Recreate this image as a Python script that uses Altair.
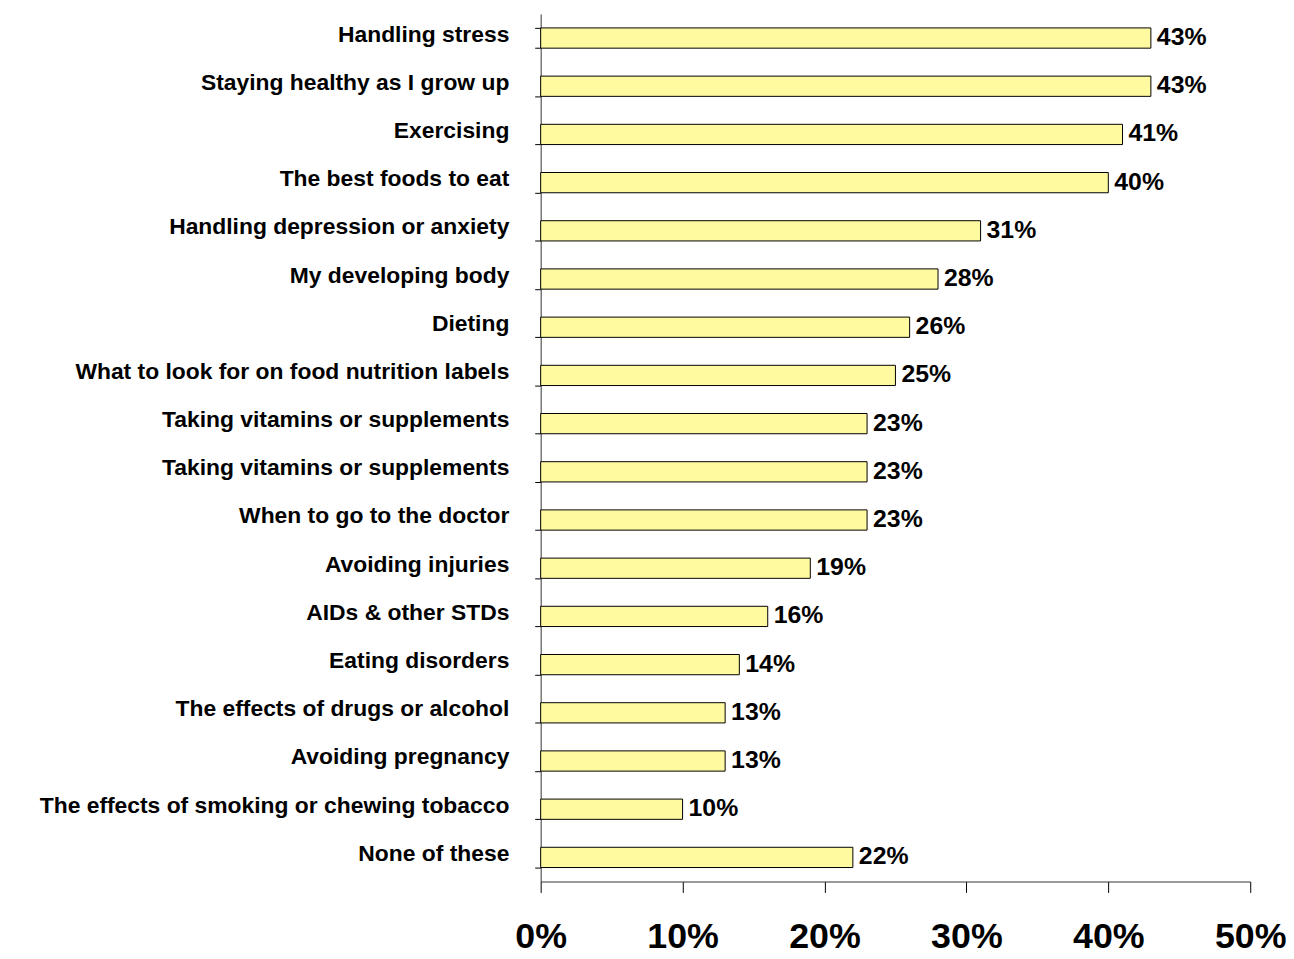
import json
import altair as alt
import pandas as pd

categories = [
    "Handling stress",
    "Staying healthy as I grow up",
    "Exercising",
    "The best foods to eat",
    "Handling depression or anxiety",
    "My developing body",
    "Dieting",
    "What to look for on food nutrition labels",
    "Taking vitamins or supplements",
    "Taking vitamins or supplements",
    "When to go to the doctor",
    "Avoiding injuries",
    "AIDs & other STDs",
    "Eating disorders",
    "The effects of drugs or alcohol",
    "Avoiding pregnancy",
    "The effects of smoking or chewing tobacco",
    "None of these",
]
values = [43, 43, 41, 40, 31, 28, 26, 25, 23, 23, 23, 19, 16, 14, 13, 13, 10, 22]
x_ticks = [0, 10, 20, 30, 40, 50]

df = pd.DataFrame({"idx": list(range(len(categories))), "cat": categories, "val": values})

label_expr = json.dumps(categories) + "[datum.value]"

y_enc = alt.Y(
    "idx:O",
    scale=alt.Scale(paddingInner=0.58, paddingOuter=0.29),
    axis=alt.Axis(
        title=None,
        labelExpr=label_expr,
        labelFont="Liberation Sans",
        labelFontWeight="bold",
        labelFontSize=23,
        labelColor="black",
        labelPadding=26,
        labelOffset=-4,
        labelLimit=600,
        tickBand="extent",
        tickSize=6,
        tickColor="black",
        domainColor="#333333",
        grid=False,
    ),
)

x_enc = alt.X(
    "val:Q",
    scale=alt.Scale(domain=[0, 50], nice=False),
    axis=alt.Axis(
        title=None,
        values=x_ticks,
        labelExpr="datum.value + '%'",
        labelFont="Liberation Sans",
        labelFontWeight="bold",
        labelFontSize=36,
        labelColor="black",
        labelPadding=27,
        labelFlush=False,
        tickSize=11,
        tickColor="black",
        domainColor="#333333",
        grid=False,
    ),
)

bars = alt.Chart(df).mark_bar(
    fill="#FFFAA0", stroke="black", strokeWidth=1
).encode(x=x_enc, y=y_enc)

texts = alt.Chart(df).mark_text(
    align="left", baseline="middle", dx=6, dy=-1,
    font="Liberation Sans", fontWeight="bold", fontSize=25, color="black"
).encode(
    x=alt.X("val:Q"),
    y=alt.Y("idx:O"),
    text=alt.Text("label:N"),
).transform_calculate(label="datum.val + '%'")

chart = (bars + texts).properties(
    width=714,
    height=873,
    autosize=alt.AutoSizeParams(type="none"),
    padding={"left": 536, "top": 3, "right": 36, "bottom": 74},
    background="white",
).configure_view(stroke=None)

chart.save("out.html", embed_options={"renderer": "svg", "actions": False})
